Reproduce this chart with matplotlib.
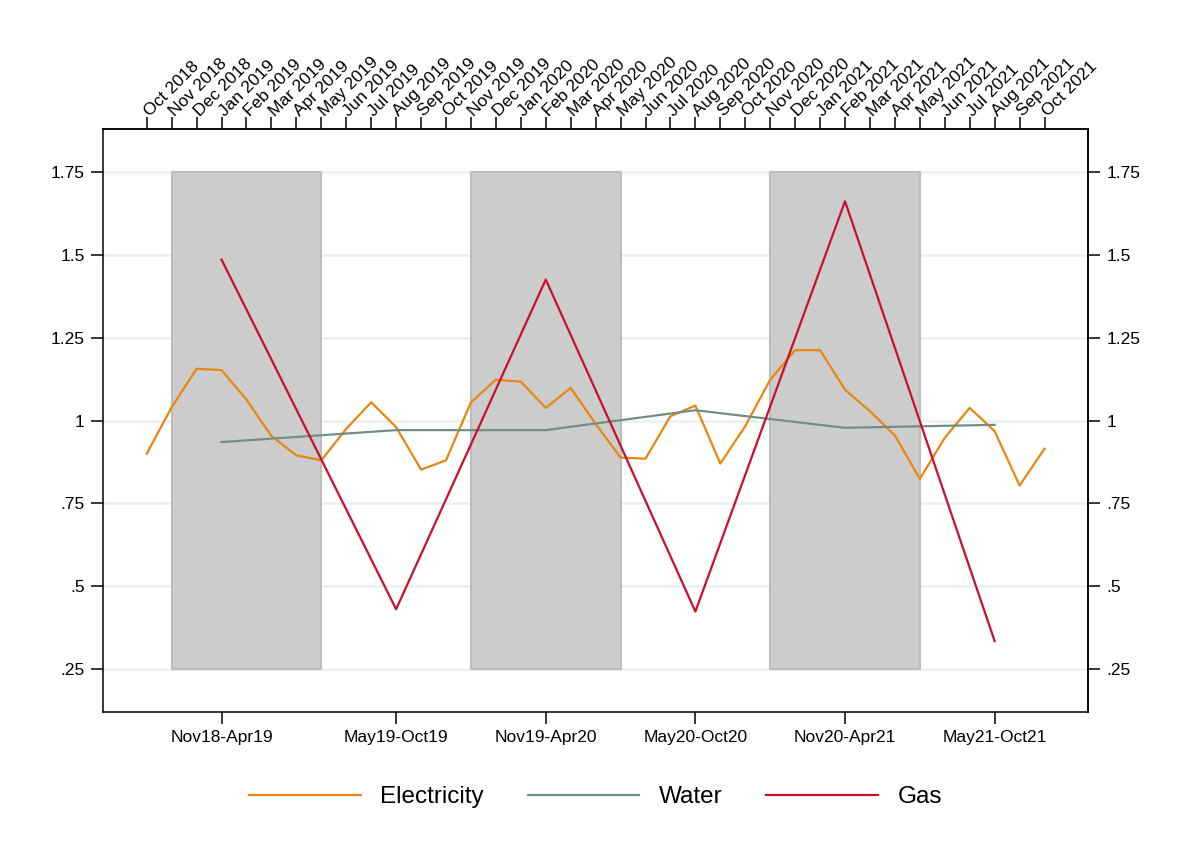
import matplotlib.pyplot as plt

# month axis (top)
months = ["Oct 2018", "Nov 2018", "Dec 2018", "Jan 2019", "Feb 2019", "Mar 2019",
          "Apr 2019", "May 2019", "Jun 2019", "Jul 2019", "Aug 2019", "Sep 2019",
          "Oct 2019", "Nov 2019", "Dec 2019", "Jan 2020", "Feb 2020", "Mar 2020",
          "Apr 2020", "May 2020", "Jun 2020", "Jul 2020", "Aug 2020", "Sep 2020",
          "Oct 2020", "Nov 2020", "Dec 2020", "Jan 2021", "Feb 2021", "Mar 2021",
          "Apr 2021", "May 2021", "Jun 2021", "Jul 2021", "Aug 2021", "Sep 2021",
          "Oct 2021"]

# monthly electricity index
electricity = [0.90, 1.04, 1.156, 1.152, 1.063, 0.953, 0.895, 0.88, 0.975, 1.055,
               0.98, 0.852, 0.88, 1.055, 1.123, 1.117, 1.038, 1.098, 0.99, 0.888,
               0.885, 1.013, 1.045, 0.87, 0.983, 1.123, 1.212, 1.212, 1.093, 1.028,
               0.955, 0.824, 0.948, 1.038, 0.968, 0.804, 0.915]

# semester series (bottom axis)
semesters = ["Nov18-Apr19", "May19-Oct19", "Nov19-Apr20",
             "May20-Oct20", "Nov20-Apr21", "May21-Oct21"]
semester_month = ["Jan 2019", "Aug 2019", "Feb 2020", "Aug 2020", "Feb 2021", "Aug 2021"]
water = [0.935, 0.971, 0.971, 1.031, 0.978, 0.987]
gas = [1.485, 0.431, 1.425, 0.424, 1.661, 0.335]

# winter shading
winter_start = ["Nov 2018", "Nov 2019", "Nov 2020"]
winter_end = ["May 2019", "May 2020", "May 2021"]
shade_low, shade_high = 0.25, 1.75

yticks = [0.25, 0.5, 0.75, 1.0, 1.25, 1.5, 1.75]
ylabels = [".25", ".5", ".75", "1", "1.25", "1.5", "1.75"]

plt.rcParams['font.family'] = ['Liberation Sans', 'DejaVu Sans']

fig = plt.figure(figsize=(11.77, 8.61), dpi=100)
ax = fig.add_axes([0.0878, 0.1734, 0.8363, 0.6764])

x_month = list(range(len(months)))
x_sem = [months.index(m) for m in semester_month]

for yt in yticks:
    ax.axhline(yt, color='#e9f1f3', lw=1.8, zorder=0)

for s, e in zip(winter_start, winter_end):
    ax.fill_between([months.index(s), months.index(e)], shade_low, shade_high,
                    facecolor='#cccccc', edgecolor='#bdbdbd', lw=1.5, zorder=1)

ax.plot(x_month, electricity, color='#e8870e', lw=1.6, label='Electricity', zorder=3)
ax.plot(x_sem, water, color='#6f8f85', lw=1.6, label='Water', zorder=3)
ax.plot(x_sem, gas, color='#c8102e', lw=1.6, label='Gas', zorder=3)

ax.set_xlim(-1.74, 37.73)
ax.set_ylim(0.122, 1.878)

ax.set_xticks(x_sem)
ax.set_xticklabels(semesters, fontsize=12.5)
ax.set_yticks(yticks)
ax.set_yticklabels(ylabels, fontsize=12.5)
ax.tick_params(axis='both', length=8.5, width=1.1, pad=5, direction='out')

top = ax.secondary_xaxis('top')
top.set_xticks(x_month)
top.set_xticklabels(months, rotation=45, ha='left', va='center',
                    rotation_mode='anchor', fontsize=12.5)
top.tick_params(length=8.5, width=1.1, pad=3)

right = ax.secondary_yaxis('right')
right.set_yticks(yticks)
right.set_yticklabels(ylabels, fontsize=12.5)
right.tick_params(length=8.5, width=1.1, pad=5)

for sp in ax.spines.values():
    sp.set_linewidth(1.1)
top.spines['top'].set_linewidth(1.1)
right.spines['right'].set_linewidth(1.1)

fig.legend(loc='center', bbox_to_anchor=(0.506, 0.074), ncol=3, frameon=False,
           fontsize=17.5, handlelength=4.6, handletextpad=0.8, columnspacing=1.8)

fig.savefig('out.png', dpi=100, facecolor='white')
